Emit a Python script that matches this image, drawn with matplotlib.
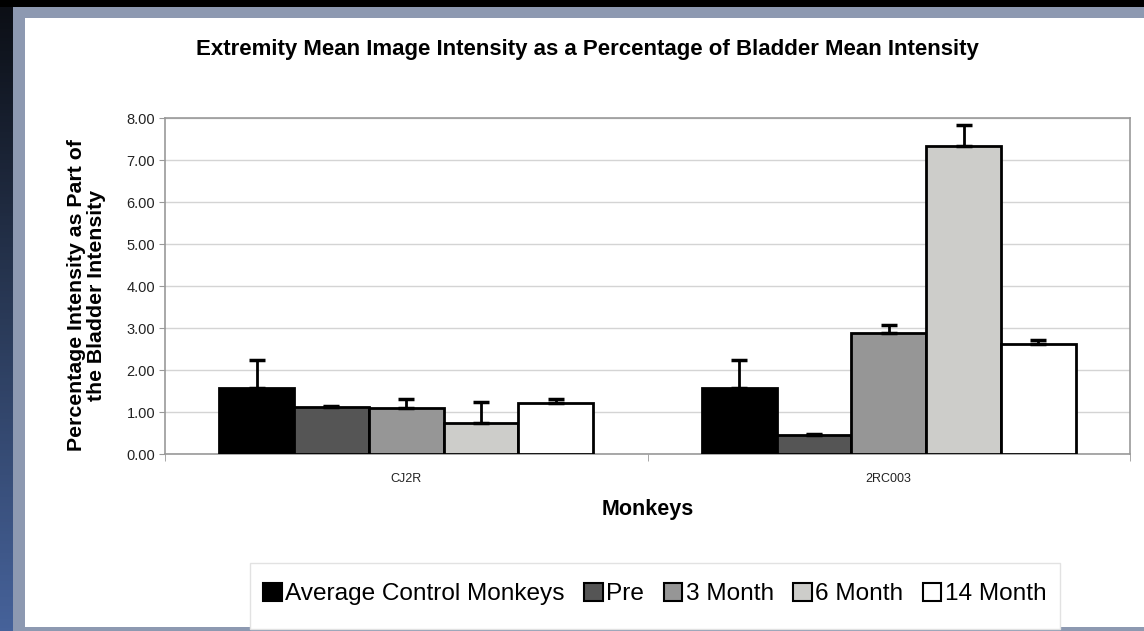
import numpy as np
import matplotlib.pyplot as plt
from matplotlib.patches import Rectangle, Patch
from matplotlib.colors import LinearSegmentedColormap

# dados
macacos = ['CJ2R', '2RC003']
series = ['Average Control Monkeys', 'Pre', '3 Month', '6 Month', '14 Month']
medias = {
    'Average Control Monkeys': [1.57, 1.57],
    'Pre': [1.12, 0.45],
    '3 Month': [1.10, 2.87],
    '6 Month': [0.75, 7.33],
    '14 Month': [1.22, 2.62],
}
erros = {
    'Average Control Monkeys': [0.67, 0.67],
    'Pre': [0.03, 0.03],
    '3 Month': [0.20, 0.21],
    '6 Month': [0.49, 0.50],
    '14 Month': [0.10, 0.10],
}
cores = ['#000000', '#555555', '#969696', '#cdcdca', '#ffffff']
yticks = [0, 1, 2, 3, 4, 5, 6, 7, 8]

plt.rcParams['font.family'] = ['Liberation Sans', 'DejaVu Sans']

W, H = 1144, 631
fig = plt.figure(figsize=(W / 100, H / 100), dpi=100)
fig.patch.set_facecolor('black')

# fundo: faixa azul à esquerda, moldura cinza-azulada e painel branco
bg = fig.add_axes([0, 0, 1, 1], zorder=-10)
bg.set_xlim(0, W)
bg.set_ylim(H, 0)
bg.axis('off')
grad = np.linspace(0, 1, 200).reshape(-1, 1)
cmap_lado = LinearSegmentedColormap.from_list('lado', ['#0c0f16', '#2a3a58', '#46629a'])
bg.imshow(grad, cmap=cmap_lado, extent=[0, 13, H, 7], aspect='auto')
bg.add_patch(Rectangle((13, 7), W - 13, H - 7, facecolor='#8d99b1', edgecolor='none'))
bg.add_patch(Rectangle((25, 18), W - 25, 609, facecolor='white', edgecolor='none'))
# caixa da legenda
bg.add_patch(Rectangle((250, 563), 810, 66, facecolor='white', edgecolor='#e2e2e2', linewidth=1))

ax = fig.add_axes([165 / W, 1 - 454 / H, 965 / W, 336 / H])
ax.set_facecolor('white')

x = np.arange(len(macacos))
largura = 0.155
for i, s in enumerate(series):
    pos = x + (i - 2) * largura
    ax.bar(pos, medias[s], largura, color=cores[i], edgecolor='black', linewidth=2, zorder=3)
    ax.errorbar(pos, medias[s], yerr=[np.zeros(len(macacos)), erros[s]], fmt='none',
                ecolor='black', elinewidth=2, capsize=5.8, capthick=2.5, zorder=4)

ax.set_xlim(-0.5, 1.5)
ax.set_ylim(0, 8)
ax.set_yticks(yticks)
ax.set_yticklabels(['%.2f' % v for v in yticks], fontsize=10.5, color='#222222')
ax.set_xticks(x)
ax.set_xticklabels(macacos, fontsize=9, color='#222222')
ax.set_xticks([-0.5, 0.5, 1.5], minor=True)
ax.tick_params(axis='x', which='major', length=0, pad=14)
ax.tick_params(axis='x', which='minor', length=5, color='#999999')
ax.tick_params(axis='y', length=4, color='#999999', pad=3)
ax.grid(axis='y', color='#d4d4d4', linewidth=1, zorder=0)
for lado in ax.spines.values():
    lado.set_color('#999999')
    lado.set_linewidth(1.2)

ax.set_xlabel('Monkeys', fontsize=15.5, fontweight='bold', labelpad=10)
ax.set_ylabel('Percentage Intensity as Part of\nthe Bladder Intensity', fontsize=15.3,
              fontweight='bold', linespacing=1.05)
ax.yaxis.set_label_coords(-0.061, 0.473)

fig.text(587 / W, 1 - 50 / H, 'Extremity Mean Image Intensity as a Percentage of Bladder Mean Intensity',
         ha='center', va='center', fontsize=16, fontweight='bold')

handles = [Patch(facecolor=c, edgecolor='black', linewidth=1.5) for c in cores]
fig.legend(handles, series, loc='center', bbox_to_anchor=(655 / W, 1 - 594 / H), ncol=5,
           frameon=False, fontsize=17.6, handlelength=0.75, handleheight=0.75,
           handletextpad=0.15, columnspacing=0.8)

plt.savefig('out.png', dpi=100, facecolor=fig.get_facecolor())
